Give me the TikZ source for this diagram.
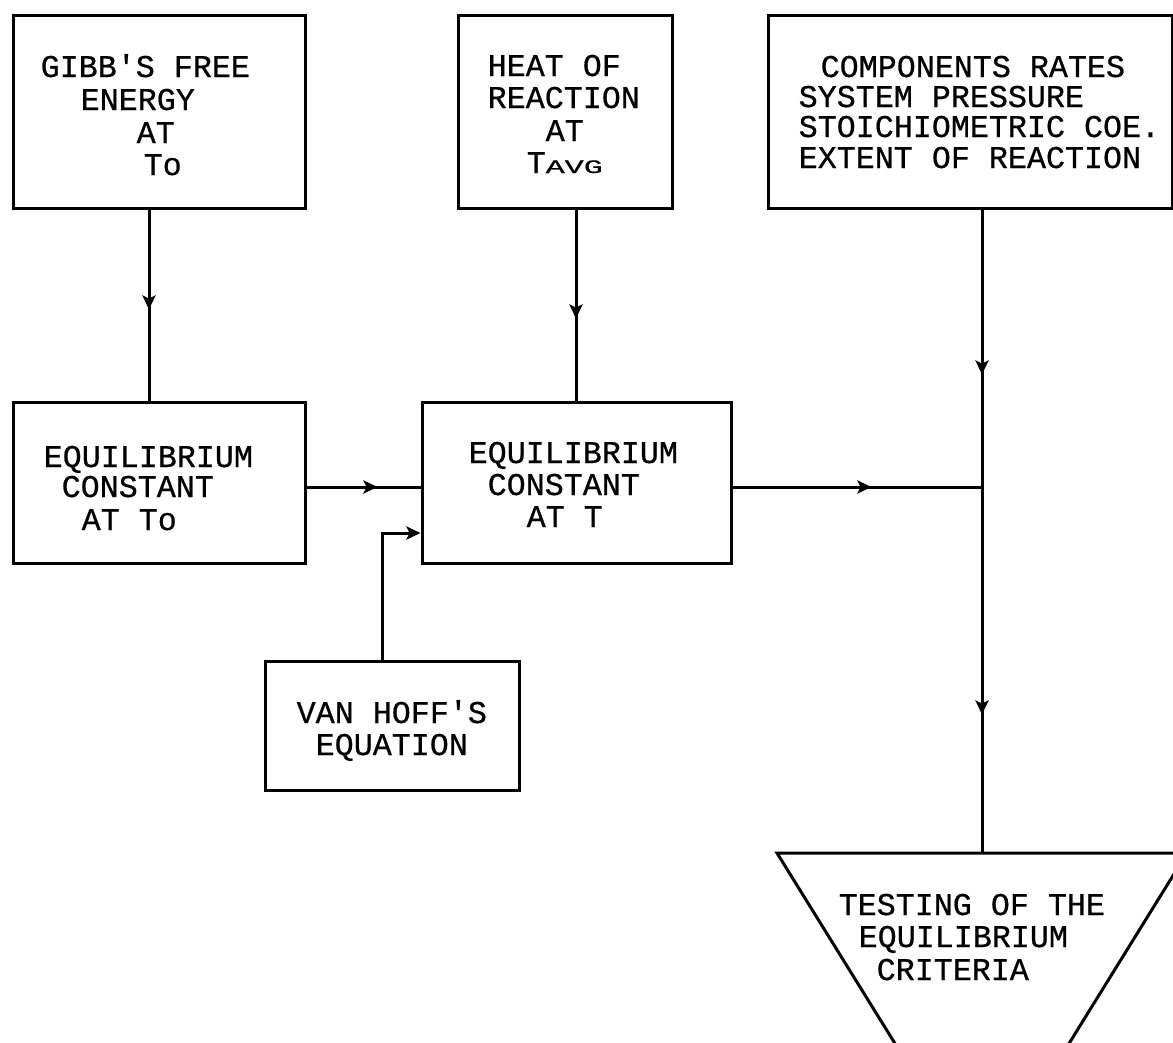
\documentclass[tikz,border=0pt]{standalone}
\usepackage{fontspec}
\newfontfamily\typefont[FakeBold=0.6]{Liberation Mono}
\usetikzlibrary{arrows.meta,decorations.markings}
\newcommand\flowfont{\typefont\fontsize{31.7}{33}\selectfont}
\newcommand\lowcaps[1]{\scalebox{1}[0.6]{#1}}
\tikzset{
  box/.style={draw, line width=3pt, inner sep=0pt},
  wire/.style={line width=3pt},
  txt/.style={anchor=base west, inner sep=0pt, font=\flowfont},
  midtip/.style={postaction={decorate, decoration={markings,
      mark=at position #1 with {\arrow{Stealth[length=14pt,width=13pt,inset=3pt]}}}}},
}
\begin{document}
\begin{tikzpicture}[x=1pt,y=-1pt]
\useasboundingbox (0,0) rectangle (1173,1042);
\fill[white] (0,0) rectangle (1173,1042);
\clip (0,0) rectangle (1173,1042);

% blocks
\node[box, minimum width=292pt, minimum height=193pt] (gibbs) at (159,111.5) {};
\node[box, minimum width=214pt, minimum height=193pt] (heat)  at (565,111.5) {};
\node[box, minimum width=404pt, minimum height=193pt] (comp)  at (970,111.5) {};
\node[box, minimum width=292pt, minimum height=161pt] (eqTo)  at (159,482.5) {};
\node[box, minimum width=309pt, minimum height=161pt] (eqT)   at (576.5,482.5) {};
\node[box, minimum width=254pt, minimum height=129pt] (vanh)  at (392,725.5) {};

% test block: inverted triangle running off the lower edge
\coordinate (tl) at (777,853);
\coordinate (tr) at (1187,853);
\coordinate (tb) at (982,1184);
\coordinate (ttop) at (982,853);
\draw[line width=3pt, line join=miter] (tl) -- (tr) -- (tb) -- cycle;

% block texts
\node[txt] (a1) at (40.5,77)  {GIBB'S FREE};
\node[txt] (a2) at (80.5,110) {ENERGY};
\node[txt] (a3) at (136.5,143) {AT};
\node[txt] (a4) at (143.5,175) {To};

\node[txt] (b1) at (487.5,76)  {HEAT OF};
\node[txt] (b2) at (487.5,108) {REACTION};
\node[txt] (b3) at (545.5,141) {AT};
\node[txt] (b4) at (526.5,173) {T\lowcaps{AVG}};

\node[txt] (c1) at (820.5,77)  {COMPONENTS RATES};
\node[txt] (c2) at (798.5,107) {SYSTEM PRESSURE};
\node[txt] (c3) at (798.5,137) {STOICHIOMETRIC COE.};
\node[txt] (c4) at (798.5,168) {EXTENT OF REACTION};

\node[txt] (d1) at (43.5,467) {EQUILIBRIUM};
\node[txt] (d2) at (61.5,497) {CONSTANT};
\node[txt] (d3) at (81.5,530) {AT To};

\node[txt] (e1) at (468.5,463) {EQUILIBRIUM};
\node[txt] (e2) at (487.5,495) {CONSTANT};
\node[txt] (e3) at (526.5,527) {AT T};

\node[txt] (f1) at (296.5,723) {VAN HOFF'S};
\node[txt] (f2) at (315.5,755) {EQUATION};

\node[txt] (t1) at (838.5,915) {TESTING OF THE};
\node[txt] (t2) at (858.5,947) {EQUILIBRIUM};
\node[txt] (t3) at (876.5,980) {CRITERIA};

% routing guides
\coordinate (colA) at (149,0);
\coordinate (colB) at (576,0);
\coordinate (colV) at (382,0);
\coordinate (rowK) at (0,487);
\coordinate (rowV) at (0,533);
\coordinate (join) at (982,487);

% connectors
\draw[wire, midtip=100pt] (gibbs.south -| colA) -- (eqTo.north -| colA);
\draw[wire, midtip=109pt] (heat.south -| colB) -- (eqT.north -| colB);
\draw[wire, midtip=71pt] (eqTo.east |- rowK) -- (eqT.west |- rowK);
\draw[wire, -{Stealth[length=14pt,width=13pt,inset=3pt]}] (vanh.north -| colV) |- (eqT.west |- rowV);
\draw[wire, midtip=139pt] (eqT.east |- rowK) -- (join);
\draw[wire, midtip=165pt, midtip=505pt] (comp.south -| join) -- (ttop);
\end{tikzpicture}
\end{document}
